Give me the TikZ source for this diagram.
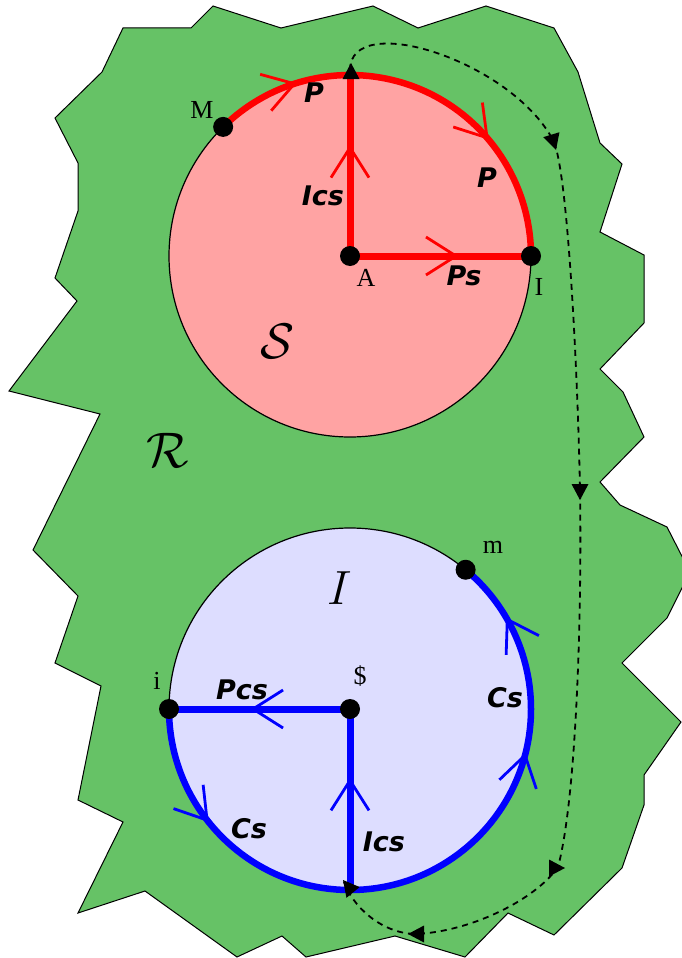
\RequirePackage{fix-cm}
\documentclass[tikz,border=0pt]{standalone}
\usepackage{fontspec}
\setmainfont{Liberation Serif}
\newfontfamily\labfont{DejaVu Sans}
\usetikzlibrary{arrows.meta,decorations.markings}
\definecolor{regiongreen}{HTML}{66C266}
\definecolor{sred}{HTML}{FFA3A3}
\definecolor{iblue}{HTML}{DDDDFF}
\begin{document}
\begin{tikzpicture}[x=1pt,y=1pt,
  >={Straight Barb[length=30pt,width=38pt,line width=2.8pt]},
  region/.style={fill=regiongreen,draw=black,line width=1pt,line join=miter},
  disc/.style={draw=black,line width=1.2pt},
  redpath/.style={draw=red,line width=6.5pt},
  bluepath/.style={draw=blue,line width=6.5pt},
  dot/.style={circle,fill=black,minimum size=20pt,inner sep=0pt},
  lab/.style={font=\labfont\bfseries\itshape\fontsize{27}{27}\selectfont,inner sep=0pt},
  serif/.style={font=\fontsize{26}{26}\selectfont,inner sep=0pt},
  mathlab/.style={font=\fontsize{50}{50}\selectfont,inner sep=0pt},
  dashpath/.style={draw=black,line width=1.8pt,dash pattern=on 6pt off 5pt},
  tri/.pic={\fill[black] (0,0) -- (-16,8.5) -- (-16,-8.5) -- cycle;}
]
\useasboundingbox (0,0) rectangle (681,-958);
% region R
\path[region] (123,-28) -- (191,-28) -- (213,-6) -- (281,-28) -- (373,-6) -- (418,-28) -- (486,-6) -- (554,-28)
 -- (578,-72) -- (600,-143) -- (622,-164) -- (600,-232) -- (644,-255) -- (644,-323) -- (600,-369) -- (623,-392)
 -- (644,-437) -- (600,-482) -- (620,-505) -- (667,-527) -- (690,-572) -- (667,-618) -- (622,-663) -- (681,-722)
 -- (644,-775) -- (644,-805) -- (622,-868) -- (554,-935) -- (508,-913) -- (465,-957) -- (395,-936) -- (306,-957)
 -- (282,-936) -- (237,-957) -- (145,-891) -- (78,-913) -- (123,-822) -- (78,-800) -- (101,-686) -- (55,-663)
 -- (78,-596) -- (33,-550) -- (100,-414) -- (9,-391) -- (77,-301) -- (55,-278) -- (78,-211) -- (78,-163)
 -- (55,-118) -- (102,-72) -- cycle;
% centres and points
\coordinate (A) at (350,-256);
\coordinate (D) at (350,-709);
\coordinate (M) at ([shift={(134.5:181)}]A);
\coordinate (I) at ([shift={(0:181)}]A);
\coordinate (Stop) at ([shift={(0,182)}]A);
\coordinate (m) at ([shift={(50.3:181)}]D);
\coordinate (i) at ([shift={(180:181)}]D);
\coordinate (Dbot) at ([shift={(0,-181)}]D);
% discs
\path[disc,fill=sred] (A) circle[radius=181];
\path[disc,fill=iblue] (D) circle[radius=181];
% red paths
\path[redpath,decoration={markings,mark=at position 0.204 with {\arrow{>}},mark=at position 0.703 with {\arrow{>}}},postaction={decorate}]
  (M) arc[start angle=134.5,end angle=0,radius=181];
\path[redpath,line width=7pt,decoration={markings,mark=at position 0.61 with {\arrow{>}}},postaction={decorate}] (A) -- (Stop);
\path[redpath,line width=7pt,decoration={markings,mark=at position 0.6 with {\arrow{>}}},postaction={decorate}] (A) -- (I);
% blue paths
\path[bluepath,decoration={markings,mark=at position 0.168 with {\arrow{>}},mark=at position 0.721 with {\arrow{>}},mark=at position 0.914 with {\arrow{>}}},postaction={decorate}]
  (i) arc[start angle=180,end angle=410.3,radius=181];
\path[bluepath,line width=7pt,decoration={markings,mark=at position 0.62 with {\arrow{>}}},postaction={decorate}] (Dbot) -- (D);
\path[bluepath,line width=7pt,decoration={markings,mark=at position 0.55 with {\arrow{>}}},postaction={decorate}] (D) -- (i);
% dots
\node[dot] (dM) at (M) {};
\node[dot] (dA) at (A) {};
\node[dot] (dI) at (I) {};
\node[dot] (dm) at (m) {};
\node[dot] (di) at (i) {};
\node[dot] (dD) at (D) {};
% dashed route
\coordinate (S0) at (350,-70);
\coordinate (K1) at (553,-140);
\coordinate (K2) at (580,-491);
\coordinate (K3) at (558,-867);
\coordinate (K4) at (415,-934);
\coordinate (E) at (344,-882);
\path[dashpath] (S0) .. controls (350,-10) and (510,-60) .. (K1)
  .. controls (568,-168) and (578,-380) .. (K2)
  .. controls (582,-620) and (576,-800) .. (K3)
  .. controls (535,-900) and (470,-932) .. (K4)
  .. controls (380,-933) and (352,-905) .. (E);
\pic[rotate=90] at (351,-63) {tri};
\pic[rotate=-73] at (556,-150) {tri};
\pic[rotate=-90] at (580,-500) {tri};
\pic[rotate=0] at (565,-868) {tri};
\pic[rotate=180] at (408,-934) {tri};
\pic[rotate=129] at (343,-880) {tri};
% labels
\node[lab] (pTop) at (314,-93) {P};
\node[lab] (pRight) at (487,-178) {P};
\node[lab] (icsTop) at (323,-196) {Ics};
\node[lab] (ps) at (464,-276) {Ps};
\node[serif] (lA) at (366,-278) {A};
\node[serif] (lI) at (539,-287) {I};
\node[serif] (lM) at (202,-110) {M};
\node[mathlab] (lS) at (278,-341) {$\mathcal{S}$};
\node[mathlab] (lR) at (168,-450) {$\mathcal{R}$};
\node[mathlab,font=\fontsize{48}{48}\selectfont] (lIc) at (340,-588) {$I$};
\node[serif] (lm) at (493,-547) {m};
\node[serif] (li) at (157,-681) {i};
\node[serif] (ld) at (360,-676) {\$};
\node[lab] (pcs) at (242,-690) {Pcs};
\node[lab] (csR) at (505,-698) {Cs};
\node[lab] (csL) at (249,-829) {Cs};
\node[lab] (icsB) at (384,-842) {Ics};
\end{tikzpicture}
\end{document}
